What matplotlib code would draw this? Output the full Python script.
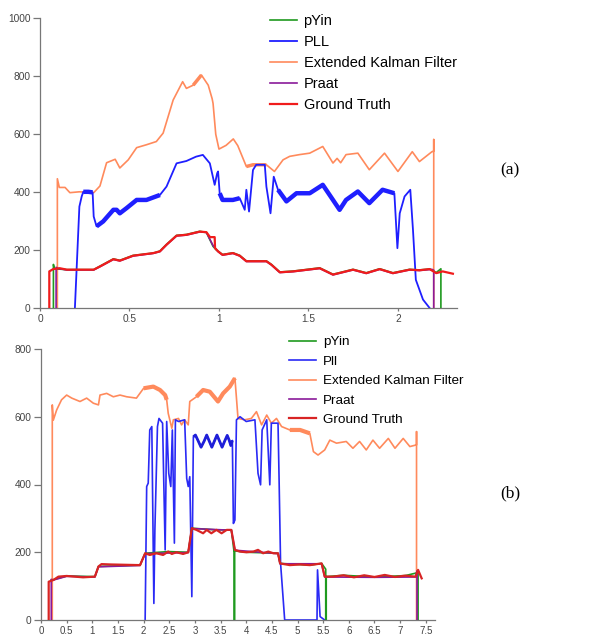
import numpy as np
import matplotlib
matplotlib.use("Agg")
import matplotlib.pyplot as plt

plt.rcParams['font.family'] = ['Liberation Sans', 'DejaVu Sans']

C_PYIN = "#1f9a1f"
C_PLL = "#1f1fff"
C_EKF = "#ff8a5c"
C_PRAAT = "#8a1a9a"
C_GT = "#f01c1c"

# ---------------- panel (a) data ----------------
ekf_a_x = [0.097, 0.097, 0.108, 0.14, 0.167, 0.22, 0.3, 0.335, 0.372, 0.42, 0.446, 0.493, 0.54, 0.595,
           0.65, 0.688, 0.744, 0.797, 0.818, 0.856, 0.902, 0.94, 0.962, 0.967, 0.982, 1.0, 1.04, 1.08,
           1.105, 1.153, 1.19, 1.265, 1.31, 1.358, 1.395, 1.45, 1.507, 1.58, 1.637, 1.66, 1.68, 1.71,
           1.776, 1.84, 1.925, 2.0, 2.08, 2.12, 2.19, 2.2, 2.2, 2.2]
ekf_a_y = [0, 445, 415, 415, 397, 400, 397, 420, 500, 512, 482, 510, 552, 562,
           573, 602, 716, 779, 756, 767, 802, 767, 720, 704, 598, 547, 560, 582,
           559, 487, 493, 493, 470, 510, 522, 528, 533, 556, 499, 515, 500, 528,
           533, 476, 533, 470, 538, 504, 538, 540, 580, 0]
ekf_a_band = [(0.85, 0.93), (1.15, 1.3)]

pll_a_x = [0.195, 0.22, 0.233, 0.242, 0.27, 0.294, 0.30, 0.316, 0.353, 0.41, 0.428, 0.446, 0.484, 0.54,
           0.595, 0.67, 0.707, 0.763, 0.818, 0.872, 0.91, 0.949, 0.976, 0.99, 0.995, 1.004, 1.02, 1.078,
           1.116, 1.144, 1.153, 1.168, 1.19, 1.208, 1.256, 1.265, 1.288, 1.306, 1.33, 1.377, 1.433, 1.507,
           1.58, 1.637, 1.674, 1.71, 1.776, 1.84, 1.914, 1.98, 1.997, 2.01, 2.037, 2.069, 2.084, 2.1,
           2.14, 2.177]
pll_a_y = [0, 349, 384, 400, 400, 398, 315, 281, 298, 338, 338, 326, 344, 372,
           372, 389, 418, 498, 506, 521, 527, 498, 424, 464, 470, 395, 372, 372,
           378, 338, 407, 332, 475, 493, 493, 418, 326, 452, 407, 367, 395, 395,
           424, 372, 338, 372, 401, 361, 407, 395, 206, 326, 384, 407, 269, 97,
           29, 0]
pll_a_band = [(0.24, 0.295), (0.31, 0.68), (1.0, 1.12), (1.33, 1.985)]

gt_a_x = [0.052, 0.052, 0.074, 0.11, 0.15, 0.3, 0.335, 0.41, 0.446, 0.52, 0.633, 0.67, 0.707, 0.763,
          0.818, 0.893, 0.93, 0.95, 0.976, 0.978, 0.995, 1.02, 1.078, 1.116, 1.153, 1.265, 1.293, 1.34,
          1.414, 1.563, 1.637, 1.749, 1.823, 1.898, 1.972, 2.065, 2.12, 2.177, 2.214, 2.25, 2.307]
gt_a_y = [0, 126, 134, 137, 132, 132, 143, 168, 163, 180, 189, 195, 218, 249,
          252, 263, 261, 244, 244, 206, 195, 183, 189, 180, 161, 161, 149, 123,
          126, 137, 115, 132, 120, 134, 120, 132, 130, 134, 120, 126, 118]

pyin_a_x = [0.075, 0.075, 0.08, 0.15, 0.3, 0.335, 0.41, 0.446, 0.52, 0.633, 0.67, 0.707, 0.763, 0.818,
            0.893, 0.93, 0.967, 0.985, 1.02, 1.078, 1.116, 1.153, 1.265, 1.293, 1.34, 1.414, 1.563,
            1.637, 1.749, 1.823, 1.898, 1.972, 2.065, 2.12, 2.177, 2.214, 2.24, 2.24]
pyin_a_y = [0, 150, 135, 132, 132, 144, 169, 164, 181, 189, 196, 219, 250, 253,
            264, 260, 212, 200, 184, 190, 181, 162, 162, 150, 124, 127, 138,
            116, 133, 121, 135, 121, 133, 131, 134, 122, 135, 0]

praat_a_x = [0.09, 0.09, 0.1, 0.15, 0.3, 0.335, 0.41, 0.446, 0.52, 0.633, 0.67, 0.707, 0.763, 0.818,
             0.893, 0.93, 0.967, 0.995, 1.02, 1.078, 1.116, 1.153, 1.265, 1.293, 1.34, 1.414, 1.563,
             1.637, 1.749, 1.823, 1.898, 1.972, 2.065, 2.12, 2.19, 2.2, 2.2]
praat_a_y = [0, 140, 136, 131, 131, 142, 167, 162, 179, 188, 194, 217, 248, 251,
             262, 260, 215, 194, 182, 188, 179, 160, 160, 148, 122, 125, 136,
             114, 131, 119, 133, 119, 131, 129, 133, 130, 0]

# ---------------- panel (b) data ----------------
ekf_b_x = [0.22, 0.22, 0.24, 0.305, 0.40, 0.5, 0.6, 0.76, 0.89, 1.02, 1.12, 1.15, 1.28, 1.41, 1.54,
           1.67, 1.86, 2.0, 2.19, 2.32, 2.42, 2.45, 2.48, 2.55, 2.58, 2.68, 2.74, 2.8, 2.87, 2.9,
           3.03, 3.16, 3.29, 3.45, 3.55, 3.68, 3.78, 3.81, 3.84, 3.97, 4.1, 4.2, 4.3, 4.4, 4.49,
           4.59, 4.69, 4.85, 5.05, 5.24, 5.31, 5.4, 5.53, 5.63, 5.76, 5.95, 6.08, 6.21, 6.34, 6.47,
           6.6, 6.77, 6.9, 7.06, 7.19, 7.32, 7.32, 7.32]
ekf_b_y = [0, 635, 590, 620, 650, 664, 655, 645, 655, 640, 635, 664, 669, 659, 664,
           659, 655, 684, 689, 679, 664, 650, 610, 566, 591, 595, 576, 591, 576, 645,
           659, 679, 674, 645, 669, 689, 714, 655, 595, 591, 595, 615, 576, 605, 581,
           595, 571, 561, 561, 551, 497, 487, 502, 531, 522, 527, 507, 527, 502, 531,
           507, 536, 507, 536, 512, 517, 556, 0]
ekf_b_band = [(1.95, 2.45), (2.95, 3.8), (4.7, 5.3)]

pll_b_x = [2.03, 2.06, 2.09, 2.12, 2.16, 2.2, 2.22, 2.27, 2.3, 2.37, 2.42, 2.45, 2.49, 2.53, 2.56,
           2.6, 2.62, 2.68, 2.8, 2.84, 2.87, 2.9, 2.94, 2.97, 3.01, 3.06, 3.12, 3.18, 3.23, 3.28,
           3.33, 3.38, 3.43, 3.48, 3.53, 3.58, 3.63, 3.67, 3.70, 3.73, 3.75, 3.78, 3.81, 3.88, 4.0,
           4.17, 4.23, 4.28, 4.31, 4.4, 4.46, 4.49, 4.62, 4.64, 4.67, 4.75, 5.38, 5.39, 5.44, 5.53]
pll_b_y = [0, 394, 404, 561, 571, 49, 266, 571, 595, 581, 207, 586, 433, 394, 561,
           227, 591, 586, 591, 418, 394, 423, 69, 541, 546, 530, 510, 528, 546, 528,
           510, 528, 546, 528, 510, 528, 545, 530, 515, 530, 285, 295, 591, 600, 586,
           591, 433, 399, 561, 591, 399, 581, 581, 423, 167, 0, 0, 148, 10, 0]
pll_b_band = [(2.96, 3.74)]

gt_b_x = [0.15, 0.15, 0.24, 0.34, 0.5, 0.82, 1.05, 1.12, 1.18, 1.34, 1.93, 2.03, 2.12, 2.25, 2.38,
          2.48, 2.55, 2.64, 2.77, 2.87, 2.94, 3.03, 3.16, 3.23, 3.32, 3.42, 3.52, 3.62, 3.71, 3.78,
          3.88, 4.0, 4.14, 4.23, 4.33, 4.43, 4.53, 4.62, 4.66, 4.85, 5.05, 5.24, 5.47, 5.53, 5.69,
          5.9, 6.1, 6.3, 6.5, 6.7, 6.9, 7.1, 7.3, 7.35, 7.42]
gt_b_y = [0, 113, 118, 128, 130, 126, 128, 158, 165, 164, 162, 197, 192, 197, 192,
          202, 195, 200, 195, 200, 271, 266, 256, 266, 256, 266, 256, 266, 266, 207,
          202, 200, 202, 207, 197, 202, 197, 197, 167, 162, 164, 162, 167, 128, 128,
          132, 126, 132, 127, 133, 127, 131, 128, 148, 123]

pyin_b_x = [0.2, 0.24, 0.5, 1.05, 1.12, 1.93, 2.03, 2.48, 2.87, 2.94, 3.42, 3.71, 3.76, 3.765, 3.765,
            3.775, 3.775, 4.0, 4.62, 4.66, 5.24, 5.47, 5.55, 5.55, 5.56, 5.56, 5.9, 6.5, 7.1, 7.35,
            7.35]
pyin_b_y = [118, 119, 130, 128, 158, 162, 197, 202, 200, 271, 266, 266, 205, 205, 0,
            0, 204, 200, 197, 167, 162, 167, 150, 0, 0, 128, 132, 127, 131, 140,
            0]

praat_b_x = [0.2, 0.2, 0.24, 0.5, 1.05, 1.12, 1.93, 2.03, 2.87, 2.94, 3.71, 3.78, 4.62, 4.66, 5.47,
             5.53, 6.5, 7.3, 7.33, 7.33]
praat_b_y = [0, 120, 118, 129, 127, 157, 161, 196, 199, 270, 265, 206, 196, 166, 166,
             127, 126, 127, 145, 0]

a_xticks = [0, 0.5, 1, 1.5, 2]
a_xlabels = ["0", "0.5", "1", "1.5", "2"]
a_yticks = [0, 200, 400, 600, 800, 1000]
b_xticks = [0, 0.5, 1, 1.5, 2, 2.5, 3, 3.5, 4, 4.5, 5, 5.5, 6, 6.5, 7, 7.5]
b_xlabels = ["0", "0.5", "1", "1.5", "2", "2.5", "3", "3.5", "4", "4.5", "5", "5.5", "6", "6.5", "7", "7.5"]
b_yticks = [0, 200, 400, 600, 800]


def band(ax, xs, ys, spans, color, lw):
    """overlay thicker pieces where the trace oscillates fast"""
    xs = np.asarray(xs)
    ys = np.asarray(ys)
    for lo, hi in spans:
        sel = (xs >= lo) & (xs <= hi)
        ax.plot(xs[sel], ys[sel], color=color, lw=lw, solid_capstyle='butt',
                solid_joinstyle='round', zorder=2)


def style(ax, xticks, xlabels, yticks, xmax, ymax):
    ax.set_xlim(0, xmax)
    ax.set_ylim(0, ymax)
    ax.set_xticks(xticks)
    ax.set_xticklabels(xlabels)
    ax.set_yticks(yticks)
    for s in ["top", "right"]:
        ax.spines[s].set_visible(False)
    for s in ["left", "bottom"]:
        ax.spines[s].set_color("#777777")
        ax.spines[s].set_linewidth(0.9)
    ax.spines["left"].set_bounds(0, ymax)
    ax.tick_params(axis='both', colors="#777777", labelcolor="#444444", labelsize=7.3,
                   width=0.9)
    ax.tick_params(axis='y', length=5, pad=2)
    ax.tick_params(axis='x', length=2.5, pad=1.5)


fig = plt.figure(figsize=(6.04, 6.37), dpi=100)

# ---- (a)
ax1 = fig.add_axes([40 / 604, 1 - 308 / 637, 417 / 604, 290.5 / 637])
ax1.plot(ekf_a_x, ekf_a_y, color=C_EKF, lw=1.2, label="Extended Kalman Filter", zorder=2)
band(ax1, ekf_a_x, ekf_a_y, ekf_a_band, C_EKF, 2.5)
ax1.plot(pll_a_x, pll_a_y, color=C_PLL, lw=1.3, label="PLL", zorder=2)
band(ax1, pll_a_x, pll_a_y, pll_a_band, C_PLL, 3.2)
ax1.plot(pyin_a_x, pyin_a_y, color=C_PYIN, lw=1.2, label="pYin", zorder=3)
ax1.plot(praat_a_x, praat_a_y, color=C_PRAAT, lw=1.2, label="Praat", zorder=3)
ax1.plot(gt_a_x, gt_a_y, color=C_GT, lw=1.6, label="Ground Truth", zorder=4)
style(ax1, a_xticks, a_xlabels, a_yticks, 2.33, 1000)

h, l = ax1.get_legend_handles_labels()
order = [2, 1, 0, 3, 4]
fig.legend([h[i] for i in order], [l[i] for i in order], loc="upper left",
           bbox_to_anchor=(270 / 604, 1 - 14 / 637), frameon=False, fontsize=10.5,
           handlelength=1.85, handletextpad=0.45, labelspacing=0.48, borderpad=0, borderaxespad=0)
fig.text(510 / 604, 1 - 170 / 637, "(a)", family="Liberation Serif", fontsize=12.5,
         ha="center", va="center")

# ---- (b)
ax2 = fig.add_axes([41 / 604, 1 - 620 / 637, 394 / 604, 271 / 637])
ax2.plot(ekf_b_x, ekf_b_y, color=C_EKF, lw=1.2, label="Extended Kalman Filter", zorder=2)
band(ax2, ekf_b_x, ekf_b_y, ekf_b_band, C_EKF, 3)
ax2.plot(pll_b_x, pll_b_y, color="#2a2af5", lw=1.2, label="Pll", zorder=2)
band(ax2, pll_b_x, pll_b_y, pll_b_band, "#1f1fd8", 2)
ax2.plot(pyin_b_x, pyin_b_y, color=C_PYIN, lw=1.2, label="pYin", zorder=3)
ax2.plot(praat_b_x, praat_b_y, color=C_PRAAT, lw=1.2, label="Praat", zorder=3)
ax2.plot(gt_b_x, gt_b_y, color="#d82424", lw=1.6, label="Ground Truth", zorder=4)
style(ax2, b_xticks, b_xlabels, b_yticks, 7.68, 800)
ax2.tick_params(axis='x', labelsize=7)

h, l = ax2.get_legend_handles_labels()
order = [2, 1, 0, 3, 4]
fig.legend([h[i] for i in order], [l[i] for i in order], loc="upper left",
           bbox_to_anchor=(289 / 604, 1 - 336 / 637), frameon=False, fontsize=9.7,
           handlelength=2.0, handletextpad=0.55, labelspacing=0.52, borderpad=0, borderaxespad=0)
fig.text(510 / 604, 1 - 493 / 637, "(b)", family="Liberation Serif", fontsize=12.5,
         ha="center", va="center")

fig.savefig("out.png", dpi=100)
